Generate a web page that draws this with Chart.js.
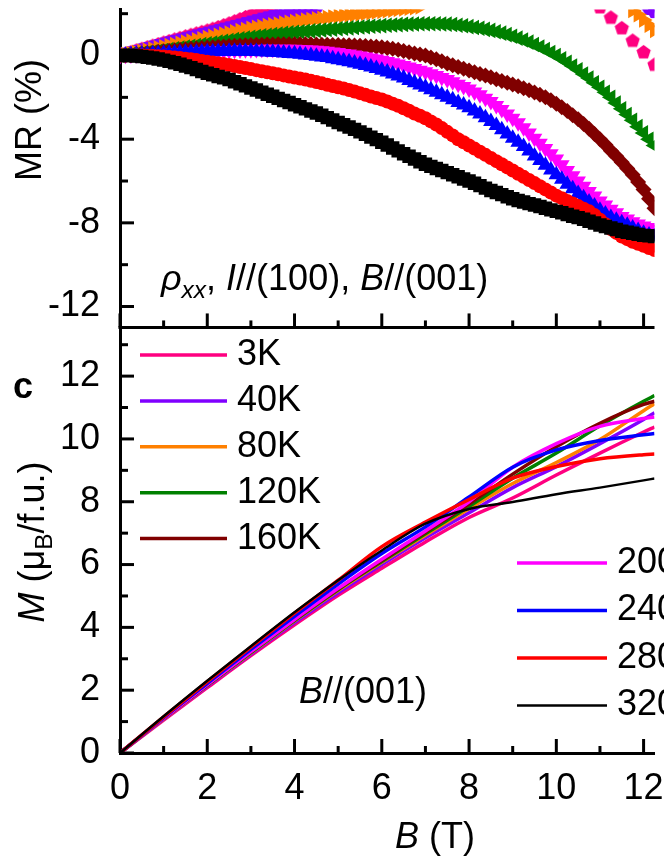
<!DOCTYPE html>
<html>
<head>
<meta charset="utf-8">
<script src="https://cdn.jsdelivr.net/npm/chart.js@4.4.0/dist/chart.umd.min.js"></script>
<style>
  html, body { margin: 0; padding: 0; background: #fff; overflow: hidden; }
  #wrap { width: 664px; height: 860px; }
</style>
</head>
<body>
<div id="wrap"><canvas id="myChart" width="664" height="860"></canvas></div>
<script>
// temperatures, colours
const temps = ['3K', '40K', '80K', '120K', '160K', '200K', '240K', '280K', '320K'];
const colors = ['#ff0080', '#8000ff', '#ff8000', '#008000', '#800000', '#ff00ff', '#0000ff', '#ff0000', '#000000'];

// top panel: MR (%) vs B (T), one row per tesla
const mrField = [
  0, 0.125, 0.25, 0.375, 0.5, 0.625, 0.75, 0.875,
  1, 1.125, 1.25, 1.375, 1.5, 1.625, 1.75, 1.875,
  2, 2.125, 2.25, 2.375, 2.5, 2.625, 2.75, 2.875,
  3, 3.125, 3.25, 3.375, 3.5, 3.625, 3.75, 3.875,
  4, 4.125, 4.25, 4.375, 4.5, 4.625, 4.75, 4.875,
  5, 5.125, 5.25, 5.375, 5.5, 5.625, 5.75, 5.875,
  6, 6.125, 6.25, 6.375, 6.5, 6.625, 6.75, 6.875,
  7, 7.125, 7.25, 7.375, 7.5, 7.625, 7.75, 7.875,
  8, 8.125, 8.25, 8.375, 8.5, 8.625, 8.75, 8.875,
  9, 9.125, 9.25, 9.375, 9.5, 9.625, 9.75, 9.875,
  10, 10.125, 10.25, 10.375, 10.5, 10.625, 10.75, 10.875,
  11, 11.125, 11.25, 11.375, 11.5, 11.625, 11.75, 11.875,
  12, 12.125, 12.25];

const mr3K = [
  0, 0.075, 0.15, 0.225, 0.3, 0.375, 0.45, 0.525,
  0.6, 0.675, 0.75, 0.825, 0.9, 0.97, 1.04, 1.11,
  1.18, 1.26, 1.34, 1.43, 1.52, 1.62, 1.72, 1.82,
  1.93, 2.03, 2.13, 2.23, 2.33, null, null, null,
  null, null, null, null, null, null, null, null,
  null, null, null, null, null, null, null, null,
  null, null, null, null, null, null, null, null,
  null, null, null, null, null, null, null, null,
  null, null, null, null, null, null, null, null,
  null, null, null, null, null, null, null, null,
  null, null, null, null, null, null, null, null,
  2.3, null, 1.8, null, 1.3, null, 0.7, null,
  0.15, null, -0.45];
const mr40K = [
  0, 0.065, 0.13, 0.2, 0.27, 0.34, 0.41, 0.48,
  0.55, 0.615, 0.68, 0.745, 0.81, 0.875, 0.94, 1.005,
  1.07, 1.135, 1.2, 1.265, 1.33, 1.395, 1.46, 1.53,
  1.6, 1.67, 1.74, 1.805, 1.87, 1.93, 1.99, 2.045,
  2.1, 2.15, 2.2, 2.25, 2.3, null, null, null,
  null, null, null, null, null, null, null, null,
  null, null, null, null, null, null, null, null,
  null, null, null, null, null, null, null, null,
  null, null, null, null, null, null, null, null,
  null, null, null, null, null, null, null, null,
  null, null, null, null, null, null, null, null,
  null, null, null, null, null, null, null, null,
  null, 2.25, 2.1];
const mr80K = [
  0, 0.05, 0.1, 0.15, 0.2, 0.255, 0.31, 0.365,
  0.42, 0.475, 0.53, 0.585, 0.64, 0.695, 0.75, 0.805,
  0.86, 0.915, 0.97, 1.025, 1.08, 1.135, 1.19, 1.245,
  1.3, 1.345, 1.39, 1.43, 1.47, 1.51, 1.55, 1.585,
  1.62, 1.655, 1.69, 1.72, 1.75, 1.785, 1.82, 1.85,
  1.88, 1.91, 1.94, 1.965, 1.99, 2.02, 2.05, 2.08,
  2.11, 2.14, 2.17, 2.2, 2.23, 2.26, 2.29, 2.32,
  null, null, null, null, null, null, null, null,
  null, null, null, null, null, null, null, null,
  null, null, null, null, null, null, null, null,
  null, null, null, null, null, null, null, null,
  null, null, null, null, null, null, 2.15, 1.95,
  1.7, 1.45, 1.2];
const mr120K = [
  0, 0.025, 0.05, 0.075, 0.1, 0.135, 0.17, 0.205,
  0.24, 0.28, 0.32, 0.36, 0.4, 0.44, 0.48, 0.52,
  0.56, 0.6, 0.64, 0.68, 0.72, 0.76, 0.8, 0.835,
  0.87, 0.905, 0.94, 0.97, 1.0, 1.03, 1.06, 1.085,
  1.11, 1.135, 1.16, 1.18, 1.2, 1.22, 1.24, 1.26,
  1.28, 1.3, 1.32, 1.34, 1.36, 1.38, 1.4, 1.415,
  1.43, 1.445, 1.46, 1.475, 1.49, 1.5, 1.51, 1.515,
  1.52, 1.52, 1.52, 1.51, 1.5, 1.48, 1.45, 1.42,
  1.38, 1.34, 1.3, 1.25, 1.2, 1.14, 1.07, 1.0,
  0.92, 0.83, 0.74, 0.64, 0.53, 0.41, 0.28, 0.14,
  0.0, -0.16, -0.32, -0.5, -0.68, -0.88, -1.08, -1.3,
  -1.52, -1.76, -2.0, -2.27, -2.55, -2.82, -3.1, -3.4,
  -3.7, -4.0, -4.3];
const mr160K = [
  0, 0.025, 0.05, 0.075, 0.1, 0.125, 0.15, 0.175,
  0.2, 0.225, 0.25, 0.275, 0.3, 0.32, 0.34, 0.36,
  0.38, 0.4, 0.42, 0.435, 0.45, 0.465, 0.48, 0.49,
  0.5, 0.51, 0.52, 0.525, 0.53, 0.535, 0.54, 0.54,
  0.54, 0.54, 0.54, 0.535, 0.53, 0.52, 0.51, 0.505,
  0.5, 0.495, 0.49, 0.48, 0.47, 0.45, 0.43, 0.42,
  0.4, 0.36, 0.32, 0.27, 0.22, 0.16, 0.1, 0.05,
  0.0, -0.09, -0.18, -0.28, -0.38, -0.46, -0.55, -0.63,
  -0.72, -0.8, -0.88, -0.96, -1.04, -1.13, -1.22, -1.3,
  -1.38, -1.47, -1.56, -1.66, -1.77, -1.88, -2.0, -2.14,
  -2.3, -2.47, -2.65, -2.85, -3.05, -3.27, -3.5, -3.75,
  -4.0, -4.27, -4.55, -4.82, -5.1, -5.4, -5.7, -6.05,
  -6.4, -6.85, -7.3];
const mr200K = [
  0, 0.01, 0.02, 0.035, 0.05, 0.065, 0.08, 0.09,
  0.1, 0.11, 0.12, 0.135, 0.15, 0.16, 0.17, 0.185,
  0.2, 0.21, 0.22, 0.23, 0.24, 0.25, 0.26, 0.27,
  0.28, 0.29, 0.3, 0.3, 0.3, 0.3, 0.3, 0.3,
  0.3, 0.29, 0.28, 0.265, 0.25, 0.23, 0.2, 0.17,
  0.14, 0.1, 0.07, 0.03, -0.02, -0.07, -0.12, -0.17,
  -0.23, -0.29, -0.35, -0.41, -0.48, -0.55, -0.62, -0.7,
  -0.78, -0.87, -0.96, -1.05, -1.15, -1.26, -1.37, -1.48,
  -1.6, -1.74, -1.88, -2.04, -2.2, -2.39, -2.58, -2.79,
  -3.0, -3.22, -3.45, -3.7, -3.95, -4.2, -4.45, -4.7,
  -4.95, -5.22, -5.5, -5.75, -6.0, -6.25, -6.5, -6.72,
  -6.95, -7.15, -7.35, -7.52, -7.7, -7.82, -7.95, -8.05,
  -8.15, -8.22, -8.3];
const mr240K = [
  0, 0.01, 0.02, 0.035, 0.05, 0.065, 0.08, 0.09,
  0.1, 0.11, 0.12, 0.13, 0.14, 0.15, 0.16, 0.17,
  0.18, 0.185, 0.19, 0.195, 0.2, 0.2, 0.2, 0.2,
  0.2, 0.19, 0.18, 0.17, 0.16, 0.14, 0.12, 0.1,
  0.08, 0.055, 0.03, 0.0, -0.03, -0.065, -0.1, -0.15,
  -0.2, -0.25, -0.3, -0.36, -0.42, -0.48, -0.55, -0.62,
  -0.7, -0.79, -0.88, -0.98, -1.08, -1.19, -1.3, -1.41,
  -1.52, -1.64, -1.76, -1.88, -2.0, -2.12, -2.25, -2.37,
  -2.5, -2.65, -2.8, -2.97, -3.15, -3.35, -3.55, -3.75,
  -3.95, -4.15, -4.35, -4.57, -4.8, -5.02, -5.25, -5.47,
  -5.7, -5.92, -6.15, -6.37, -6.6, -6.8, -7.0, -7.2,
  -7.4, -7.58, -7.75, -7.88, -8.0, -8.12, -8.25, -8.37,
  -8.5, -8.58, -8.65];
const mr280K = [
  0, 0, 0, 0, 0, -0.01, -0.02, -0.03,
  -0.05, -0.07, -0.1, -0.12, -0.15, -0.18, -0.22, -0.26,
  -0.3, -0.33, -0.37, -0.41, -0.45, -0.5, -0.55, -0.6,
  -0.65, -0.7, -0.75, -0.8, -0.85, -0.9, -0.95, -1.0,
  -1.05, -1.1, -1.15, -1.21, -1.27, -1.33, -1.4, -1.46,
  -1.52, -1.58, -1.65, -1.72, -1.8, -1.88, -1.96, -2.03,
  -2.1, -2.2, -2.3, -2.4, -2.52, -2.64, -2.77, -2.88,
  -3.0, -3.15, -3.3, -3.47, -3.65, -3.82, -4.0, -4.15,
  -4.3, -4.45, -4.6, -4.75, -4.9, -5.05, -5.2, -5.35,
  -5.5, -5.65, -5.8, -5.95, -6.1, -6.25, -6.4, -6.55,
  -6.7, -6.82, -6.95, -7.07, -7.2, -7.32, -7.45, -7.63,
  -7.85, -8.07, -8.3, -8.48, -8.65, -8.78, -8.9, -9.0,
  -9.1, -9.2, -9.3];
const mr320K = [
  0, 0, 0, -0.02, -0.05, -0.08, -0.12, -0.17,
  -0.22, -0.28, -0.35, -0.42, -0.5, -0.58, -0.67, -0.76,
  -0.85, -0.92, -1.0, -1.07, -1.15, -1.25, -1.35, -1.45,
  -1.55, -1.65, -1.75, -1.85, -1.95, -2.05, -2.15, -2.25,
  -2.35, -2.45, -2.55, -2.65, -2.75, -2.86, -2.97, -3.08,
  -3.2, -3.31, -3.42, -3.53, -3.65, -3.77, -3.9, -4.02,
  -4.15, -4.28, -4.42, -4.56, -4.7, -4.82, -4.95, -5.08,
  -5.2, -5.3, -5.4, -5.5, -5.6, -5.7, -5.8, -5.9,
  -6.0, -6.11, -6.22, -6.34, -6.45, -6.55, -6.65, -6.75,
  -6.85, -6.93, -7.0, -7.08, -7.15, -7.22, -7.3, -7.38,
  -7.45, -7.52, -7.6, -7.68, -7.75, -7.83, -7.92, -8.01,
  -8.1, -8.17, -8.25, -8.32, -8.4, -8.45, -8.5, -8.55,
  -8.6, -8.62, -8.65];

// bottom panel: M (muB/f.u.) vs B (T)
const mField = [0, 1, 2, 3, 4, 5, 6, 7, 8, 9, 10, 11, 12, 12.25];
const m3K   = [0, 1.05, 2.08, 3.1, 4.08, 5.02, 5.88, 6.72, 7.5, 8.12, 8.85, 9.55, 10.22, 10.38];
const m40K  = [0, 1.08, 2.13, 3.15, 4.15, 5.1, 6.0, 6.85, 7.65, 8.45, 9.12, 9.85, 10.62, 10.83];
const m80K  = [0, 1.09, 2.15, 3.18, 4.2, 5.17, 6.07, 6.93, 7.78, 8.58, 9.25, 9.98, 10.9, 11.12];
const m120K = [0, 1.1, 2.16, 3.2, 4.22, 5.2, 6.1, 6.98, 7.85, 8.75, 9.55, 10.42, 11.2, 11.38];
const m160K = [0, 1.1, 2.17, 3.22, 4.24, 5.22, 6.13, 7.03, 7.93, 8.88, 9.75, 10.5, 11.1, 11.2];
const m200K = [0, 1.1, 2.18, 3.23, 4.25, 5.24, 6.17, 7.07, 8.0, 9.1, 9.85, 10.4, 10.65, 10.7];
const m240K = [0, 1.13, 2.22, 3.3, 4.35, 5.38, 6.35, 7.2, 8.15, 9.1, 9.65, 9.95, 10.13, 10.17];
const m280K = [0, 1.15, 2.27, 3.37, 4.45, 5.5, 6.57, 7.35, 8.07, 8.75, 9.12, 9.37, 9.5, 9.52];
const m320K = [0, 1.17, 2.3, 3.4, 4.48, 5.5, 6.45, 7.3, 7.77, 7.99, 8.24, 8.45, 8.68, 8.74];

// ticks
const xMajor = [0, 2, 4, 6, 8, 10, 12];
const xMinor = [1, 3, 5, 7, 9, 11];
const mMajor = [0, 2, 4, 6, 8, 10, 12];
const mMinor = [1, 3, 5, 7, 9, 11, 13];
const mrMajor = [-12, -8, -4, 0];
const mrMinor = [-10, -6, -2, 2];

const mrSeries = [mr3K, mr40K, mr80K, mr120K, mr160K, mr200K, mr240K, mr280K, mr320K];
const mSeries = [m3K, m40K, m80K, m120K, m160K, m200K, m240K, m280K, m320K];

const FONT = '"Liberation Sans", Arial, sans-serif';
Chart.defaults.font.family = FONT;
Chart.defaults.color = '#000';

function polygonMarker(sides, radius, color, start) {
  const c = document.createElement('canvas');
  const s = Math.ceil(radius * 2) + 2;
  c.width = s; c.height = s;
  const g = c.getContext('2d');
  g.fillStyle = color;
  g.beginPath();
  for (let k = 0; k < sides; k++) {
    const a = start + k * 2 * Math.PI / sides;
    const px = s / 2 + radius * Math.cos(a), py = s / 2 + radius * Math.sin(a);
    if (k) g.lineTo(px, py); else g.moveTo(px, py);
  }
  g.closePath();
  g.fill();
  return c;
}

const markerStyle = [polygonMarker(5, 7.5, colors[0], -Math.PI / 2), polygonMarker(6, 7.5, colors[1], 0),
  'triangle', 'triangle', 'rectRot', 'triangle', 'triangle', 'circle', 'rect'];
const markerRotation = [0, 0, 90, 270, 0, 180, 0, 0, 0];
const markerRadius = [7, 7, 9, 9, 8, 9, 9, 7, 9.5];

const datasets = [];
temps.forEach((t, i) => {
  datasets.push({
    label: 'MR ' + t,
    yAxisID: 'yMR',
    data: mrField.map((b, k) => ({ x: b, y: mrSeries[i][k] })).filter(p => p.y !== null),
    pointStyle: markerStyle[i],
    pointRotation: markerRotation[i],
    pointRadius: markerRadius[i],
    pointBackgroundColor: colors[i],
    pointBorderWidth: 0,
    showLine: false,
    order: 8 - i,
    clip: 0
  });
});
temps.forEach((t, i) => {
  datasets.push({
    label: 'M ' + t,
    yAxisID: 'yM',
    data: mField.map((b, k) => ({ x: b, y: mSeries[i][k] })),
    showLine: true,
    pointRadius: 0,
    borderColor: colors[i],
    borderWidth: i === 8 ? 2.5 : 3.5,
    cubicInterpolationMode: 'monotone',
    order: 8 - i,
    clip: 0
  });
});

function drawRich(ctx, parts, x, y, size, align) {
  const fontFor = p => (p.i ? 'italic ' : '') + (p.sub ? size * 0.68 : size) + 'px ' + FONT;
  let w = 0;
  parts.forEach(p => { ctx.font = fontFor(p); w += ctx.measureText(p.t).width; });
  let cx = align === 'center' ? x - w / 2 : x;
  parts.forEach(p => {
    ctx.font = fontFor(p);
    ctx.fillText(p.t, cx, p.sub ? y + size * 0.22 : y);
    cx += ctx.measureText(p.t).width;
  });
}

const decor = {
  id: 'decor',
  afterDraw(chart) {
    const ctx = chart.ctx;
    const a = chart.chartArea;
    const sx = chart.scales.x, yM = chart.scales.yM, yMR = chart.scales.yMR;
    ctx.save();
    ctx.strokeStyle = '#000';
    ctx.lineWidth = 3;
    // panel separator
    ctx.beginPath();
    ctx.moveTo(a.left - 1.5, yMR.bottom);
    ctx.lineTo(a.right, yMR.bottom);
    ctx.stroke();
    // inward ticks
    const xTicks = (vals, len) => vals.forEach(v => {
      const px = sx.getPixelForValue(v);
      [yM.bottom, yMR.bottom].forEach(base => {
        ctx.beginPath(); ctx.moveTo(px, base); ctx.lineTo(px, base - len); ctx.stroke();
      });
    });
    const yTicks = (scale, vals, len) => vals.forEach(v => {
      const py = scale.getPixelForValue(v);
      ctx.beginPath(); ctx.moveTo(a.left, py); ctx.lineTo(a.left + len, py); ctx.stroke();
    });
    xTicks(xMajor, 14); xTicks(xMinor, 7);
    yTicks(yM, mMajor, 14); yTicks(yM, mMinor, 8);
    yTicks(yMR, mrMajor, 14); yTicks(yMR, mrMinor, 8);

    // legend, two groups
    ctx.textAlign = 'left';
    ctx.textBaseline = 'middle';
    ctx.font = '36px ' + FONT;
    temps.forEach((t, i) => {
      const left = i < 5;
      const y = left ? 355 + i * 45.9 : 563 + (i - 5) * 47.5;
      const x1 = left ? 140 : 517, x2 = left ? 227 : 607, tx = left ? 237 : 617;
      ctx.strokeStyle = colors[i];
      ctx.lineWidth = i === 8 ? 2.5 : 3.5;
      ctx.beginPath(); ctx.moveTo(x1, y); ctx.lineTo(x2, y); ctx.stroke();
      ctx.fillStyle = '#000';
      ctx.fillText(t, tx, y);
    });

    // panel letter
    ctx.font = 'bold 36px ' + FONT;
    ctx.fillText('c', 13, 388);

    // annotations
    ctx.textBaseline = 'alphabetic';
    drawRich(ctx, [{ t: 'ρ', i: true }, { t: 'xx', i: true, sub: true }, { t: ', ' }, { t: 'I', i: true },
      { t: '//(100), ' }, { t: 'B', i: true }, { t: '//(001)' }], 161, 290, 36);
    drawRich(ctx, [{ t: 'B', i: true }, { t: '//(001)' }], 299, 703, 36);

    // axis titles
    drawRich(ctx, [{ t: 'B', i: true }, { t: ' (T)' }], 435, 848, 36, 'center');
    ctx.save();
    ctx.translate(44, 542);
    ctx.rotate(-Math.PI / 2);
    drawRich(ctx, [{ t: 'M', i: true }, { t: ' (μ' }, { t: 'B', sub: true }, { t: '/f.u.)' }], 0, 0, 36, 'center');
    ctx.restore();
    ctx.save();
    ctx.translate(41, 120);
    ctx.rotate(-Math.PI / 2);
    drawRich(ctx, [{ t: 'MR (%)' }], 0, 0, 36, 'center');
    ctx.restore();
    ctx.restore();
  }
};

const noPad = s => { s.paddingLeft = 0; s.paddingRight = 0; s.paddingTop = 0; s.paddingBottom = 0; };

const config = {
  type: 'scatter',
  data: { datasets: datasets },
  options: {
    responsive: false,
    animation: false,
    devicePixelRatio: 1,
    layout: { padding: 0 },
    plugins: { legend: { display: false }, tooltip: { enabled: false } },
    scales: {
      x: {
        type: 'linear', position: 'bottom', min: 0, max: 12.25,
        grid: { display: false, drawTicks: false },
        border: { display: true, width: 3, color: '#000' },
        ticks: { padding: 14, font: { size: 36 }, color: '#000', maxRotation: 0, autoSkip: false },
        afterBuildTicks: s => { s.ticks = xMajor.map(v => ({ value: v })); },
        afterFit: s => { s.height = 107; noPad(s); }
      },
      yM: {
        type: 'linear', position: 'left', stack: 'panels', stackWeight: 431, min: 0, max: 13.55,
        grid: { display: false, drawTicks: false },
        border: { display: true, width: 3, color: '#000' },
        ticks: { padding: 20, font: { size: 36 }, color: '#000', autoSkip: false },
        afterBuildTicks: s => { s.ticks = mMajor.map(v => ({ value: v })); },
        afterFit: s => { s.width = 120; noPad(s); }
      },
      yMR: {
        type: 'linear', position: 'left', stack: 'panels', stackWeight: 322, min: -13, max: 2.2,
        grid: { display: false, drawTicks: false },
        border: { display: true, width: 3, color: '#000' },
        ticks: { padding: 20, font: { size: 36 }, color: '#000', autoSkip: false },
        afterBuildTicks: s => { s.ticks = mrMajor.map(v => ({ value: v })); },
        afterFit: s => { s.width = 120; noPad(s); }
      }
    }
  },
  plugins: [decor]
};

new Chart(document.getElementById('myChart'), config);
</script>
</body>
</html>
